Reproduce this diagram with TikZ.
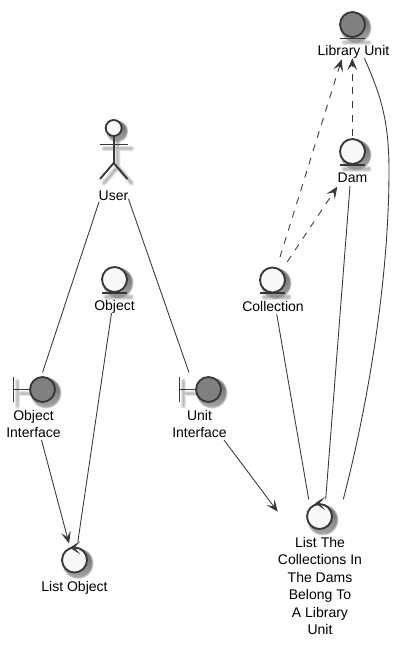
\documentclass[tikz,border=0pt]{standalone}
\usepackage{fontspec}
\setmainfont{Liberation Sans}
\usetikzlibrary{arrows.meta}
\definecolor{ink}{HTML}{383838}
\definecolor{lightfill}{HTML}{F8F8F8}
\definecolor{darkfill}{HTML}{808080}
\definecolor{shade}{HTML}{808080}
\tikzset{
  x=0.75pt,y=-0.75pt,
  iconline/.style={draw=ink,line width=1.4pt},
  iconc/.style={circle,iconline,inner sep=0pt,minimum size=18.75pt,fill=lightfill},
  darkc/.style={iconc,fill=darkfill},
  headc/.style={circle,iconline,inner sep=0pt,minimum size=12pt,fill=lightfill},
  lbl/.style={align=center,inner sep=0pt,text=black,font=\fontsize{10.5}{13.1}\selectfont},
  conn/.style={draw=ink,line width=0.65pt},
  head/.style={-{Stealth[length=9pt,width=7.5pt,inset=4pt,fill=ink]}},
  dashconn/.style={conn,dash pattern=on 5.2pt off 5.2pt},
  blur/.style={draw=shade,opacity=0.22,line cap=round},
  chevron/.style={fill=ink,draw=ink,line width=0.9pt,line join=miter}
}
% soft shadow of a filled disc
\newcommand{\discshadow}[3]{%
  \foreach \w in {4.2pt,2.8pt,1.4pt}{\fill[shade,opacity=0.25] (#1+3.5,#2+3.5) circle[radius=#3*0.75pt+\w*0.5];}%
}
% soft shadow of an open stroke
\newcommand{\strokeshadow}[1]{%
  \begin{scope}[shift={(4,4)}]
    \foreach \w in {4pt,2.6pt,1.4pt}{\draw[blur,line width=\w] #1;}%
  \end{scope}%
}
\begin{document}
\begin{tikzpicture}
\useasboundingbox (0,0) rectangle (412,647);
\fill[white] (0,0) rectangle (412,647);

% shadows
\discshadow{352.5}{24.5}{12.5}
\discshadow{352.5}{151.5}{12.5}
\discshadow{272.5}{280}{12.5}
\discshadow{114.5}{279.5}{12.5}
\discshadow{42.5}{389.5}{12.5}
\discshadow{208.5}{389.5}{12.5}
\discshadow{74.5}{560}{12.5}
\discshadow{319.5}{516.5}{12.5}
\strokeshadow{(340,38.5) -- (365,38.5)}
\strokeshadow{(340,165) -- (365,165)}
\strokeshadow{(260,293) -- (285,293)}
\strokeshadow{(102,293) -- (127,293)}
\strokeshadow{(13.5,377) -- (13.5,402) (13.5,389.5) -- (30,389.5)}
\strokeshadow{(179.5,377) -- (179.5,402) (179.5,389.5) -- (196,389.5)}
\strokeshadow{(100,144.5) -- (127.5,144.5) (113.7,136) -- (113.7,163) (100,179) -- (113.7,163) -- (127.5,179)}
\discshadow{113.7}{128}{8}

% icons
\node[darkc] (libunit) at (352.5,24.5) {};
\draw[iconline] ([shift={(-12.5,14)}]libunit.center) -- ([shift={(12.5,14)}]libunit.center);
\node[iconc] (dam) at (352.5,151.5) {};
\draw[iconline] ([shift={(-12.5,13.5)}]dam.center) -- ([shift={(12.5,13.5)}]dam.center);
\node[iconc] (coll) at (272.5,280) {};
\draw[iconline] ([shift={(-12.5,13)}]coll.center) -- ([shift={(12.5,13)}]coll.center);
\node[iconc] (obj) at (114.5,279.5) {};
\draw[iconline] ([shift={(-12.5,13.5)}]obj.center) -- ([shift={(12.5,13.5)}]obj.center);

\node[darkc] (objif) at (42.5,389.5) {};
\draw[iconline] ([shift={(-29,-12.5)}]objif.center) -- ([shift={(-29,12.5)}]objif.center);
\draw[iconline] ([shift={(-29,0)}]objif.center) -- (objif.west);
\node[darkc] (unitif) at (208.5,389.5) {};
\draw[iconline] ([shift={(-29,-12.5)}]unitif.center) -- ([shift={(-29,12.5)}]unitif.center);
\draw[iconline] ([shift={(-29,0)}]unitif.center) -- (unitif.west);

\node[iconc] (listobj) at (74.5,560) {};
\path[chevron] ([shift={(-3.4,-12.3)}]listobj.center) -- ([shift={(2.6,-16.2)}]listobj.center) -- ([shift={(-0.8,-12.3)}]listobj.center) -- ([shift={(2.6,-8.4)}]listobj.center) -- cycle;
\node[iconc] (listcoll) at (319.5,516.5) {};
\path[chevron] ([shift={(-3.4,-13.2)}]listcoll.center) -- ([shift={(2.6,-17.1)}]listcoll.center) -- ([shift={(-0.8,-13.2)}]listcoll.center) -- ([shift={(2.6,-9.3)}]listcoll.center) -- cycle;

% actor
\node[headc] (user) at (113.7,128) {};
\draw[iconline] (user.south) -- ([shift={(0,35)}]user.center) coordinate (hip);
\draw[iconline] ([shift={(-13.7,16.5)}]user.center) -- ([shift={(13.8,16.5)}]user.center);
\draw[iconline] ([shift={(-13.7,51)}]user.center) -- (hip) -- ([shift={(13.8,51)}]user.center);

% labels
\node[lbl] (libunitL) at (353.5,52) {Library Unit};
\node[lbl] (damL) at (352.5,178) {Dam};
\node[lbl] (collL) at (273,306) {Collection};
\node[lbl] (objL) at (114.5,307) {Object};
\node[lbl] (userL) at (113.5,196) {User};
\node[lbl] (objifL) at (33.5,424) {Object\\Interface};
\node[lbl] (unitifL) at (199.5,424) {Unit\\Interface};
\node[lbl] (listobjL) at (74.5,588) {List Object};
\node[lbl] (listcollL) at (320,586) {List The\\Collections In\\The Dams\\Belong To\\A Library\\Unit};

% connectors
\draw[conn] ([shift={(-14.5,6)}]userL.center) -- ([shift={(0,-17)}]objif.center);
\draw[conn] ([shift={(15,3)}]userL.center) -- ([shift={(-19.5,-17)}]unitif.center);
\draw[conn,head] ([shift={(8,16)}]objifL.center) -- ([shift={(-5.5,-16.5)}]listobj.center);
\draw[conn] ([shift={(-3,6)}]objL.center) -- ([shift={(3.3,-18)}]listobj.center);
\draw[conn,head] ([shift={(24.5,16)}]unitifL.center) -- ([shift={(-41.8,-4.8)}]listcoll.center);
\draw[conn] ([shift={(3.7,8)}]collL.center) -- ([shift={(-10.8,-17.2)}]listcoll.center);
\draw[conn] ([shift={(-2.5,8)}]damL.center) -- ([shift={(6.2,-17.2)}]listcoll.center);
\draw[conn] ([shift={(11,6.3)}]libunitL.center)
  .. controls (378,90) and (389,115) .. (389,170)
  .. controls (389,290) and (364,420) .. ([shift={(23.8,-17.2)}]listcoll.center);
\draw[dashconn,head] ([shift={(7.5,-23)}]coll.center) -- ([shift={(-11.8,7.3)}]libunitL.center);
\draw[dashconn,head] ([shift={(14.8,-18.3)}]coll.center) -- ([shift={(-15.2,8.7)}]damL.center);
\draw[dashconn,head] ([shift={(-0.2,-15.5)}]dam.center) -- ([shift={(-1.2,6.3)}]libunitL.center);
\end{tikzpicture}
\end{document}
